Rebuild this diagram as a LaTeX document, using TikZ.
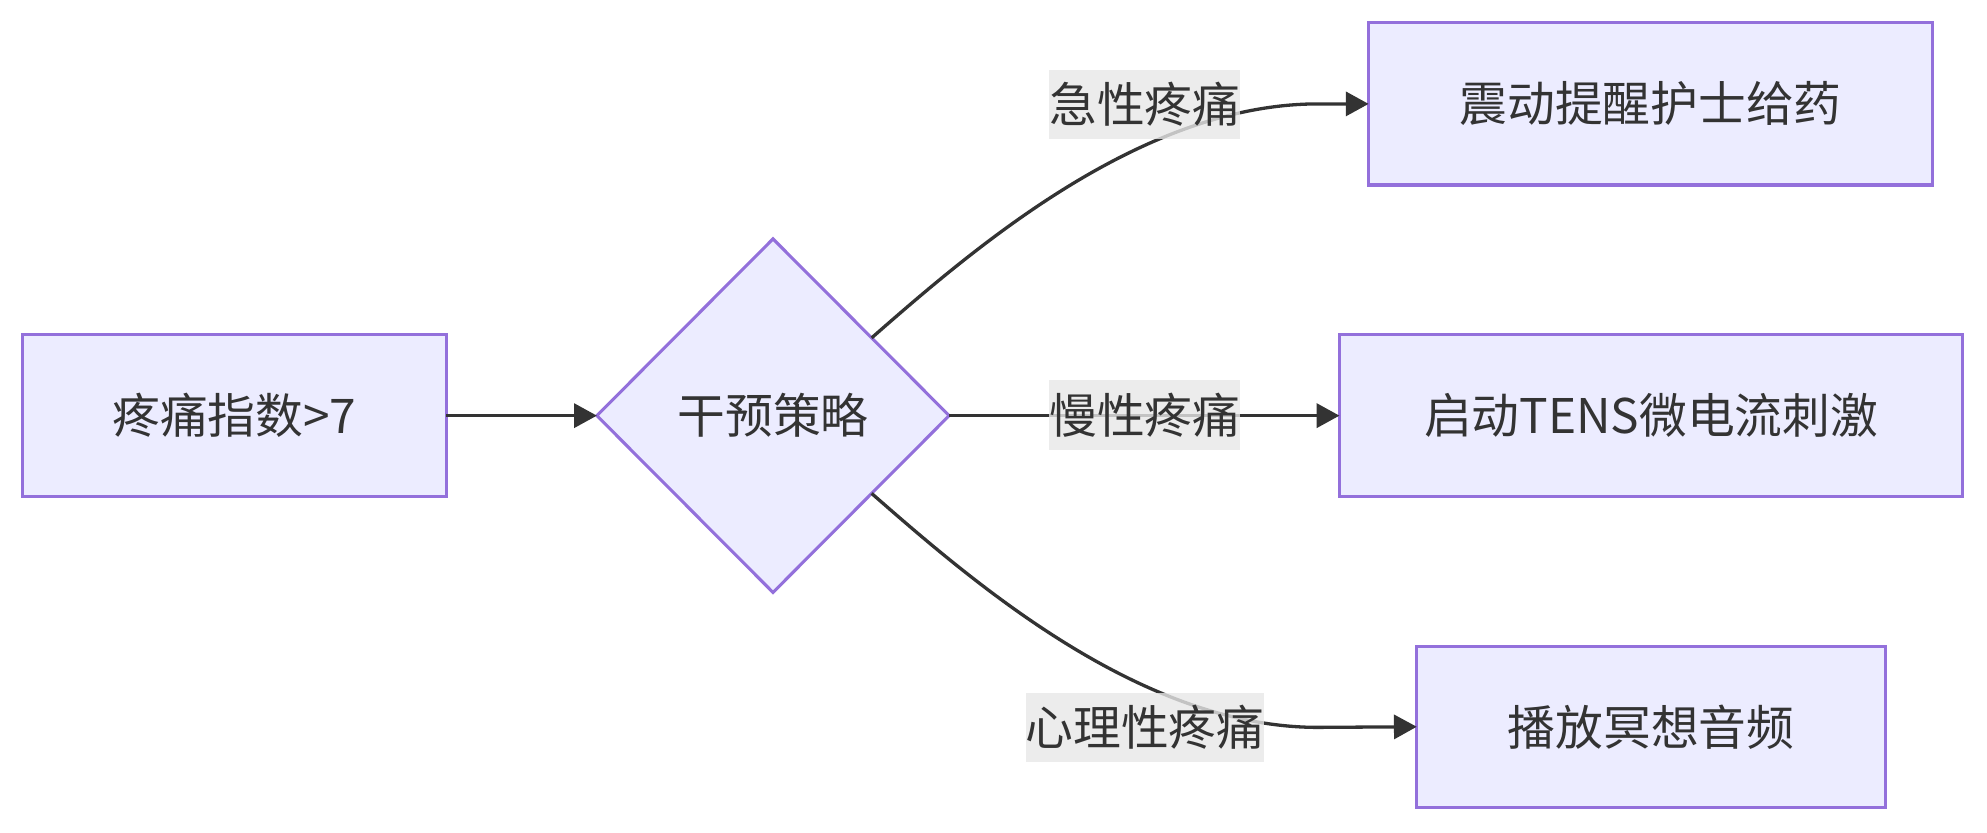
\documentclass[tikz,border=0pt]{standalone}
\usepackage{fontspec}
\newfontfamily\cjk{Noto Sans CJK SC}
\usetikzlibrary{arrows.meta,shapes.geometric,calc}
\definecolor{nodefill}{HTML}{ECECFF}
\definecolor{nodeline}{HTML}{9370DB}
\definecolor{txt}{HTML}{333333}
\definecolor{edgecol}{HTML}{333333}
\definecolor{lblbg}{HTML}{E8E8E8}
\tikzset{
  basefont/.style={font=\cjk\fontsize{37.7pt}{45pt}\selectfont, text=txt},
  box/.style={basefont, draw=nodeline, fill=nodefill, line width=2.4pt, rectangle, inner sep=0pt, outer sep=0pt, minimum height=128pt},
  choice/.style={basefont, draw=nodeline, fill=nodefill, line width=2.4pt, diamond, inner sep=0pt, outer sep=0pt, minimum width=278pt, minimum height=279pt},
  lbl/.style={basefont, fill=lblbg, fill opacity=0.8, text opacity=1, inner sep=0pt, minimum height=55pt},
  conn/.style={draw=edgecol, line width=2.6pt, -{Triangle[length=18pt,width=19pt]}}
}
\begin{document}
\begin{tikzpicture}[x=1pt,y=-1pt]
\useasboundingbox (0,0) rectangle (1568,657.3);
\fill[white] (0,0) rectangle (1568,657.3);
\node[box, minimum width=334pt] (A) at (185,328) {疼痛指数>7};
\node[choice] (B) at (610,328) {干预策略};
\node[box, minimum width=445pt] (C) at (1302.5,82) {震动提醒护士给药};
\node[box, minimum width=492pt] (D) at (1303,328) {启动TENS微电流刺激};
\node[box, minimum width=370pt, minimum height=127pt] (E) at (1303,573.5) {播放冥想音频};
\coordinate (bne) at ($(B.north)!0.56!(B.east)$);
\coordinate (bse) at ($(B.south)!0.56!(B.east)$);
\draw[conn] (A.east) -- (B.west);
\draw[conn] (bne) .. controls ($(bne)+(80,-70)$) and (900,82) .. (1040,82) -- (C.west);
\draw[conn] (B.east) -- (D.west);
\draw[conn] (bse) .. controls ($(bse)+(80,70)$) and (900,574) .. (1040,574) -- (E.west);
\node[lbl] (L1) at (903.5,82.5) {急性疼痛};
\node[lbl] (L2) at (903.5,327.5) {慢性疼痛};
\node[lbl] (L3) at (903.5,574) {心理性疼痛};
\end{tikzpicture}
\end{document}
